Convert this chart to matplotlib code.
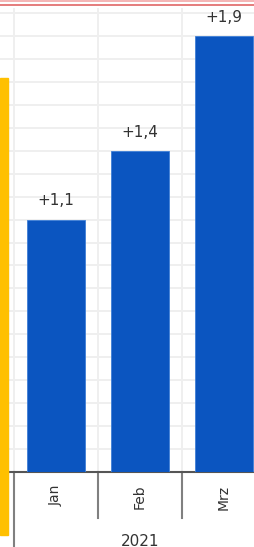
import matplotlib.pyplot as plt
from matplotlib.patches import Rectangle
from matplotlib.lines import Line2D
import matplotlib.transforms as mtransforms

months = ['Jan', 'Feb', 'Mrz']
values = [1.1, 1.4, 1.9]
value_labels = ['+1,1', '+1,4', '+1,9']
year = '2021'

W, H = 255, 547
fig = plt.figure(figsize=(W / 100, H / 100), dpi=100)

# axes: baseline at y=472 px, top at y=8 px, spans the whole width
ax = fig.add_axes([0, 1 - 472 / H, 1, (472 - 8) / H])
x = list(range(len(months)))
ax.bar(x, values, width=0.69, color='#0b55c0', edgecolor='#3f7fd6', linewidth=0.6, zorder=3)
ax.bar_label(ax.containers[0], labels=value_labels, padding=8, fontsize=11, color='#333333')

# grid
ax.set_yticks([i / 10 for i in range(1, 21)])
ax.set_xticks([-0.5, 0.5, 1.5, 2.5], minor=True)
ax.grid(True, axis='y', color='#efefef', linewidth=1.4, zorder=0)
ax.grid(True, axis='x', which='minor', color='#efefef', linewidth=1.4, zorder=0)
ax.tick_params(axis='y', left=False, labelleft=False)
ax.tick_params(axis='x', which='minor', length=0)

ax.set_xticks(x)
ax.set_xticklabels(months, rotation=90, fontsize=10, color='#333333')
ax.tick_params(axis='x', which='major', length=0, pad=9)

# limits last, set_xticks would widen them
ax.set_xlim(-0.667, 2.369)
ax.set_ylim(0, 2.022)

for s in ['top', 'right', 'left']:
    ax.spines[s].set_visible(False)
ax.spines['bottom'].set_color('#555555')
ax.spines['bottom'].set_linewidth(1.5)

# category separators below the axis
trans = mtransforms.blended_transform_factory(ax.transData, fig.transFigure)
for b in [0.5, 1.5]:
    ax.add_line(Line2D([b, b], [1 - 472 / H, 1 - 518 / H], transform=trans,
                       color='#808080', linewidth=1.5, clip_on=False))
ax.add_line(Line2D([-0.5, -0.5], [1 - 472 / H, 0], transform=trans,
                   color='#808080', linewidth=1.5, clip_on=False))

ax.annotate(year, xy=(1, 0), xycoords=('data', 'axes fraction'),
            xytext=(0, -69), textcoords='offset pixels',
            ha='center', va='center', fontsize=11, color='#333333')

# yellow marker bar on the left
fig.patches.append(Rectangle((0, 1 - 535 / H), 8 / W, (535 - 78) / H,
                             transform=fig.transFigure, color='#ffc000', zorder=5))

# red lines at the top
fig.add_artist(Line2D([0, 1], [1 - 1 / H, 1 - 1 / H], color='#f2a8a8', linewidth=1.2))
fig.add_artist(Line2D([0, 1], [1 - 4.5 / H, 1 - 4.5 / H], color='#e06666', linewidth=1.2))

fig.savefig('out.png', dpi=100)
